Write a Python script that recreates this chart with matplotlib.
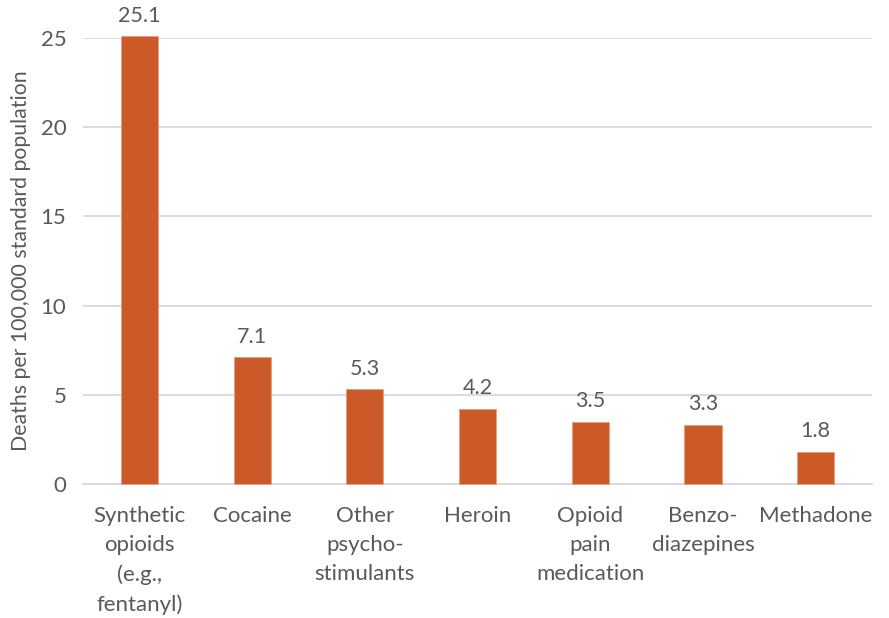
import matplotlib.pyplot as plt
import numpy as np

# 数据
categories = ['Synthetic\nopioids\n(e.g.,\nfentanyl)', 'Cocaine', 'Other\npsycho-\nstimulants',
              'Heroin', 'Opioid\npain\nmedication', 'Benzo-\ndiazepines', 'Methadone']
values = [25.1, 7.1, 5.3, 4.2, 3.5, 3.3, 1.8]
y_ticks = [0, 5, 10, 15, 20, 25]

bar_color = '#CB5A28'
text_color = '#595959'
grid_color = '#D9D9D9'

plt.rcParams['font.family'] = ['Lato', 'DejaVu Sans']

fig = plt.figure(figsize=(8.89, 6.18), dpi=100)
ax = fig.add_axes([0.0934, 0.2168, 0.8875, 0.7217])

x = np.arange(len(values))
bars = ax.bar(x, values, width=0.33, color=bar_color, edgecolor='#E8A07E',
              linewidth=0.6, zorder=3, clip_on=False)

# 数值标签
for xi, v in zip(x, values):
    ax.text(xi, v + 0.6, f'{v:.1f}', ha='center', va='bottom',
            fontsize=15.5, color=text_color)

ax.set_xlim(-0.5, len(values) - 0.5)
ax.set_ylim(0, 25)
ax.set_yticks(y_ticks)
ax.set_yticklabels([str(t) for t in y_ticks])
ax.yaxis.grid(True, color=grid_color, linewidth=1.3, zorder=0)

ax.set_xticks(x)
ax.set_xticklabels(categories, fontsize=16, color=text_color, linespacing=1.56, va='top')
ax.tick_params(axis='x', length=0, pad=16)
ax.tick_params(axis='y', length=0, pad=12, labelsize=16, labelcolor=text_color)

for side in ['top', 'right', 'left']:
    ax.spines[side].set_visible(False)
ax.spines['bottom'].set_color(grid_color)
ax.spines['bottom'].set_linewidth(1.3)

ax.set_ylabel('Deaths per 100,000 standard population', fontsize=15.3, color=text_color)
ax.yaxis.set_label_coords(-0.066, 0.5)

plt.savefig('out.png', dpi=100)
